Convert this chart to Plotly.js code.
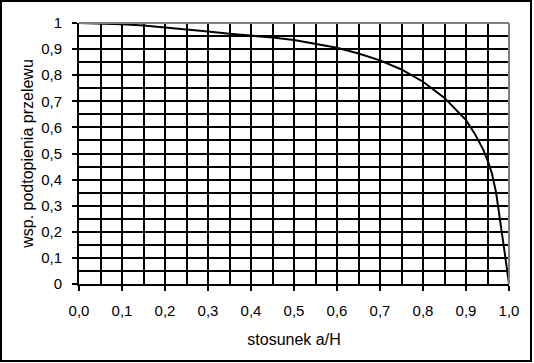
<!DOCTYPE html>
<html>
<head>
<meta charset="utf-8">
<script src="https://cdn.plot.ly/plotly-3.0.1.min.js"></script>
<style>
html,body{margin:0;padding:0;background:#fff;}
#wrap{position:relative;width:534px;height:363px;}
#chart{position:absolute;left:0;top:0;width:534px;height:363px;}
#frame{position:absolute;left:0;top:0;width:532px;height:362px;box-sizing:border-box;border:2px solid #000;pointer-events:none;}
</style>
</head>
<body>
<div id="wrap"><div id="chart"></div><div id="frame"></div></div>
<script>
const ratio = [0, 0.05, 0.1, 0.15, 0.2, 0.25, 0.3, 0.35, 0.4, 0.45, 0.5, 0.55, 0.6, 0.65, 0.7, 0.75, 0.8, 0.85, 0.9, 0.92, 0.94, 0.95, 0.96, 0.97, 0.98, 0.99, 1.0];
const coeff = [1, 0.998, 0.995, 0.99, 0.983, 0.975, 0.967, 0.959, 0.952, 0.944, 0.935, 0.921, 0.905, 0.883, 0.857, 0.822, 0.775, 0.713, 0.628, 0.577, 0.515, 0.475, 0.425, 0.35, 0.24, 0.12, 0];
const xTitle = 'stosunek a/H';
const yTitle = 'wsp. podtopienia przelewu';

const tickFont = {family: 'Liberation Sans, Arial, sans-serif', size: 15, color: '#000'};
const titleFont = {family: 'Liberation Sans, Arial, sans-serif', size: 16, color: '#000'};

const trace = {
  x: ratio, y: coeff, type: 'scatter', mode: 'lines',
  line: {color: '#000', width: 2}, cliponaxis: false, hoverinfo: 'skip'
};

const layout = {
  width: 534, height: 363,
  margin: {l: 79, r: 25, t: 23, b: 79},
  paper_bgcolor: '#fff', plot_bgcolor: '#fff',
  separators: ', ',
  font: tickFont,
  showlegend: false,
  xaxis: {
    range: [0, 1], dtick: 0.1, tick0: 0, tickformat: '.1f',
    showgrid: true, gridcolor: '#000', gridwidth: 2,
    minor: {dtick: 0.05, showgrid: true, gridcolor: '#000', gridwidth: 2},
    ticks: 'outside', ticklen: 5, tickwidth: 2, tickcolor: '#000',
    showline: true, linecolor: '#000', linewidth: 2,
    zeroline: false, ticklabelstandoff: 7, tickfont: tickFont,
    title: {text: xTitle, font: titleFont, standoff: 16},
    fixedrange: true
  },
  yaxis: {
    range: [0, 1], dtick: 0.1, tick0: 0,
    showgrid: true, gridcolor: '#000', gridwidth: 2,
    minor: {dtick: 0.05, showgrid: true, gridcolor: '#000', gridwidth: 2},
    ticks: 'outside', ticklen: 5, tickwidth: 2, tickcolor: '#000',
    showline: true, linecolor: '#000', linewidth: 2,
    zeroline: false, ticklabelstandoff: 7, tickfont: tickFont,
    title: {text: yTitle, font: titleFont, standoff: 4},
    fixedrange: true
  },
  shapes: [
    {type: 'line', xref: 'paper', yref: 'paper', x0: 0, x1: 1, y0: 1, y1: 1, line: {color: '#808080', width: 2}},
    {type: 'line', xref: 'paper', yref: 'paper', x0: 1, x1: 1, y0: 0, y1: 1, line: {color: '#808080', width: 2}}
  ]
};

Plotly.newPlot('chart', [trace], layout, {staticPlot: true, displayModeBar: false});
</script>
</body>
</html>
